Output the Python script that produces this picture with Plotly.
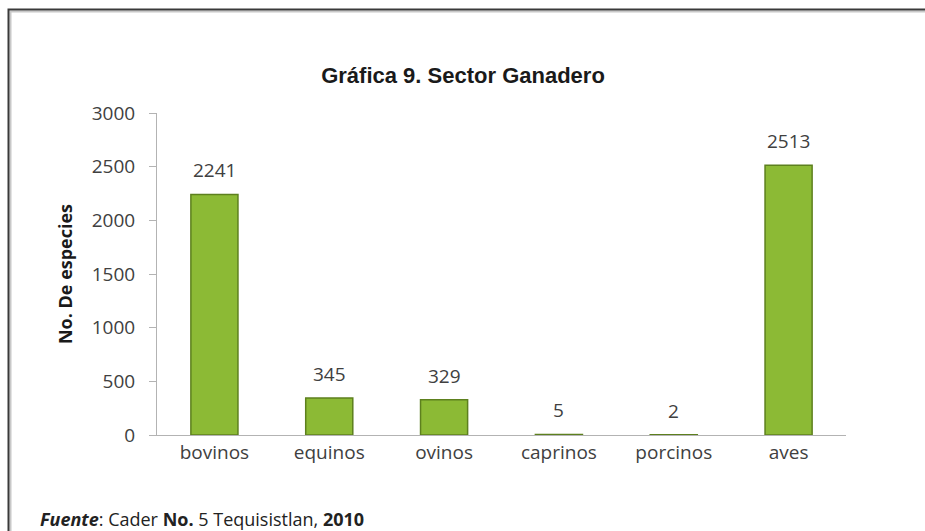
import plotly.graph_objects as go

categories = ["bovinos", "equinos", "ovinos", "caprinos", "porcinos", "aves"]
values = [2241, 345, 329, 5, 2, 2513]
y_ticks = [0, 500, 1000, 1500, 2000, 2500, 3000]

title_text = "Gráfica 9. Sector Ganadero"
y_title = "No. De especies"
footer = "<b><i>Fuente</i></b>: Cader <b>No.</b> 5 Tequisistlan, <b>2010</b>"

W, H = 925, 531
ML, MR, MT, MB = 157, 79, 113, 96
PW, PH = W - ML - MR, H - MT - MB

def px_x(p):
    return (p - ML) / PW

def px_y(p):
    return 1 - (p - MT) / PH

label_font = dict(family="Open Sans, Lato, sans-serif", size=19, color="#404040")

fig = go.Figure()
fig.add_trace(go.Bar(
    x=categories, y=values, width=0.41,
    marker=dict(color="#8cba35", line=dict(color="#5d801e", width=1.5)),
    cliponaxis=False, hoverinfo="x+y",
))

value_labels = [
    dict(x=c, y=v, xref="x", yref="y", text=str(v), showarrow=False,
         yanchor="middle", yshift=24, font=label_font)
    for c, v in zip(categories, values)
]

fig.update_layout(
    width=W, height=H,
    margin=dict(l=ML, r=MR, t=MT, b=MB),
    paper_bgcolor="white", plot_bgcolor="white",
    showlegend=False,
    bargap=0.59,
    title=dict(text="<b>" + title_text + "</b>", x=px_x(463), xref="paper",
               xanchor="center", y=1 - 75 / H, yanchor="middle",
               font=dict(family="Liberation Sans, Arial, sans-serif", size=22, color="#1a1a1a")),
    xaxis=dict(showline=True, linecolor="#b3b3b3", linewidth=1, ticks="",
               tickfont=label_font, showgrid=False),
    yaxis=dict(range=[0, 3000], tickvals=y_ticks, showline=True, linecolor="#b3b3b3",
               linewidth=1, ticks="outside", ticklen=7, tickcolor="#b3b3b3",
               tickfont=label_font, showgrid=False, zeroline=False,
               ticklabelstandoff=10,
               title=dict(text="<b>" + y_title + "</b>", standoff=14,
                          font=dict(family="Open Sans, Lato, sans-serif", size=18, color="#1a1a1a"))),
    shapes=[
        dict(type="rect", xref="paper", yref="paper",
             x0=px_x(10.5), x1=px_x(970), y0=px_y(570), y1=px_y(11.5),
             line=dict(color="#c8c8c8", width=2), fillcolor="rgba(0,0,0,0)", layer="below"),
        dict(type="rect", xref="paper", yref="paper",
             x0=px_x(8.5), x1=px_x(970), y0=px_y(570), y1=px_y(9.5),
             line=dict(color="#3a3a3a", width=2), fillcolor="rgba(0,0,0,0)", layer="below"),
    ],
    annotations=value_labels + [
        dict(text=footer, xref="paper", yref="paper", x=px_x(38), y=px_y(519),
             xanchor="left", yanchor="middle", showarrow=False,
             font=dict(family="Open Sans, Lato, sans-serif", size=18, color="#222222")),
    ],
)

fig.write_html("out.html", config={"displayModeBar": False},
               post_script="document.body.style.margin='0';")
